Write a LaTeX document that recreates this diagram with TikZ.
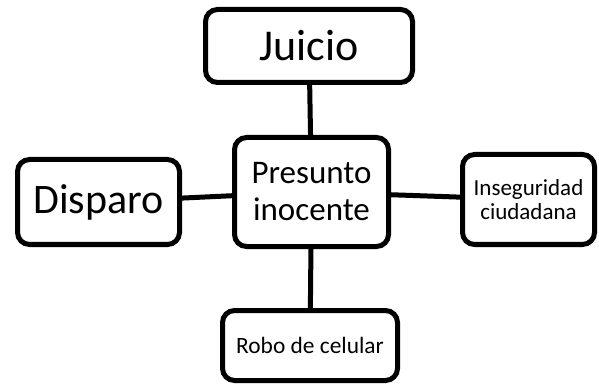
\documentclass[tikz,border=0pt]{standalone}
\usepackage{fontspec}
\setmainfont{Carlito}
\begin{document}
\begin{tikzpicture}[x=1pt,y=-1pt,
  box/.style={draw=black,line width=5pt,rounded corners=12pt,fill=white,align=center,inner sep=0pt},
  link/.style={draw=black,line width=5pt}]
\useasboundingbox (0,0) rectangle (599,387);
\node[box,minimum width=207pt,minimum height=73pt,font=\fontsize{44}{50}\selectfont] (juicio) at (309,46) {Juicio};
\node[box,minimum width=154pt,minimum height=109pt,font=\fontsize{33}{37}\selectfont] (pres) at (311.5,192) {Presunto\\inocente};
\node[box,minimum width=162pt,minimum height=85pt,font=\fontsize{42}{48}\selectfont] (disp) at (98.5,202) {Disparo};
\node[box,minimum width=132pt,minimum height=90pt,font=\fontsize{23}{24.5}\selectfont] (inseg) at (528.5,199.5) {Inseguridad\\ciudadana};
\node[box,minimum width=175pt,minimum height=70pt,font=\fontsize{23.4}{26}\selectfont] (robo) at (310,345.5) {Robo de celular};
\draw[link] (juicio) -- (pres);
\draw[link] (disp) -- (pres);
\draw[link] (pres) -- (inseg);
\draw[link] (pres) -- (robo);
\end{tikzpicture}
\end{document}
